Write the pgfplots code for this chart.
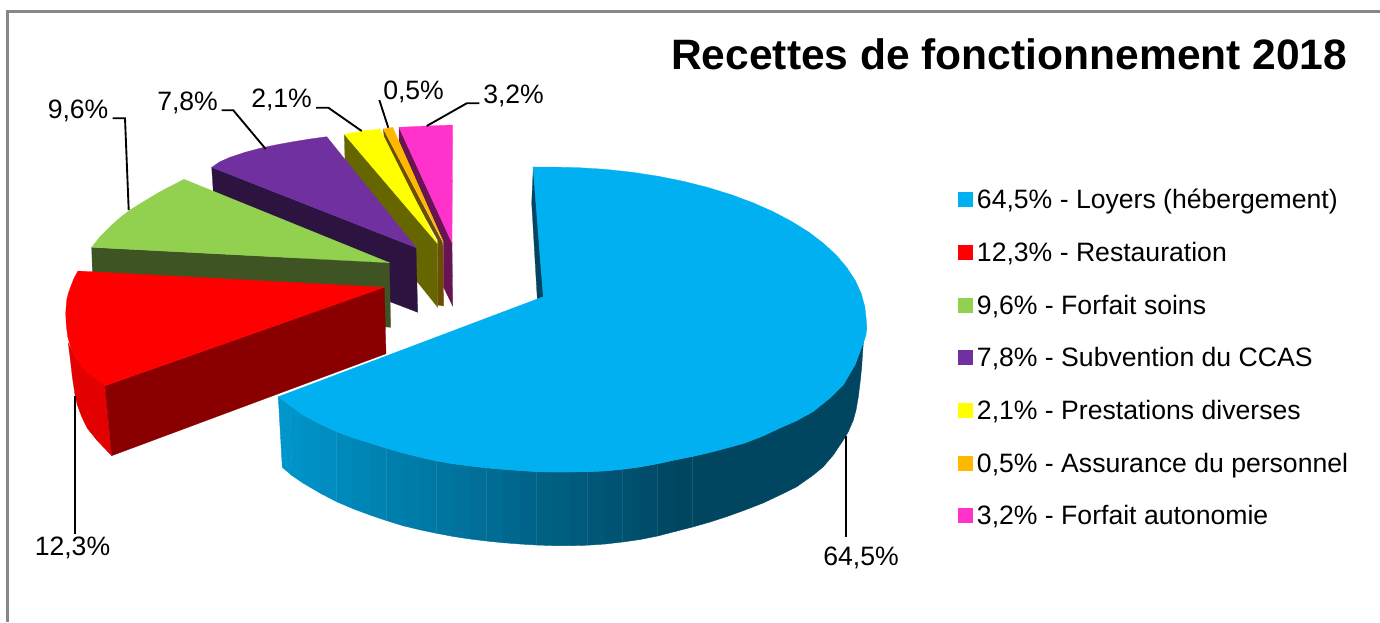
\documentclass[border=0pt]{standalone}
\usepackage{pgfplots}
\pgfplotsset{compat=1.18}
\usepackage{fontspec}
\setmainfont{Liberation Sans}
\definecolor{cblue}{RGB}{0,176,240}
\definecolor{cbluedk}{RGB}{0,70,96}
\definecolor{cred}{RGB}{255,0,0}
\definecolor{credmid}{RGB}{226,0,0}
\definecolor{creddk}{RGB}{138,0,0}
\definecolor{cgreen}{RGB}{146,208,80}
\definecolor{cgreendk}{RGB}{62,84,34}
\definecolor{cpurple}{RGB}{112,48,160}
\definecolor{cpurpledk}{RGB}{45,20,64}
\definecolor{cyellow}{RGB}{255,255,0}
\definecolor{cyellowdk}{RGB}{102,102,0}
\definecolor{corange}{RGB}{255,184,0}
\definecolor{corangedk}{RGB}{107,78,0}
\definecolor{cpink}{RGB}{255,51,204}
\definecolor{cpinkdk}{RGB}{102,20,82}
\definecolor{cframe}{RGB}{136,136,136}
\newcommand\poly[2]{\addplot[fill=#1,draw=#1,line width=0.2pt,mark=none] coordinates {#2} --cycle;}
\newcommand\wq[3]{\addplot[fill={rgb,255:red,0;green,#1;blue,#2},draw={rgb,255:red,0;green,#1;blue,#2},line width=0.3pt,mark=none] coordinates {#3} --cycle;}
\newcommand\leader[1]{\addplot[black,line width=1.4pt,mark=none] coordinates {#1};}
\newcommand\lab[3]{\node[anchor=base west,inner sep=0pt,font=\fontsize{19.95pt}{24pt}\selectfont] at (axis cs:#1,#2) {#3};}
\begin{document}
\begin{tikzpicture}
\useasboundingbox (0,0) rectangle (1035pt,466.5pt);
\begin{axis}[at={(0,0)},anchor=south west,scale only axis,width=1035pt,height=466.5pt,
 xmin=0,xmax=1380,ymin=0,ymax=622,y dir=reverse,hide axis,clip=false]
% frame
\addplot[cframe,line width=1.8pt,mark=none] coordinates {(7.5,622) (7.5,11.5) (1380,11.5)};
% pink
\poly{cpinkdk}{(399,127.3) (452,242.7) (452.7,306) (443.3,286.7) (443.3,241.7) (399,141.7)}
\poly{cpink}{(399,127.3) (426,126) (452.7,125) (452,243)}
% orange
\poly{corangedk}{(383.3,129) (442.7,242.7) (443.7,306) (437.7,305) (437.7,240) (385,145)}
\poly{corange}{(383.3,129) (392.7,127.3) (443.3,241.7)}
% yellow
\poly{cyellowdk}{(344.3,134.3) (437.3,243.3) (437.7,307.3) (416.7,281) (400,236.7) (345,159.3)}
\poly{cyellow}{(344.3,134.3) (361.7,131) (380,129) (437.3,243.3)}
% purple
\poly{cpurpledk}{(211.7,167.3) (416,247.7) (417.7,312.3) (390,301.7) (300,256.7) (213.3,191.7)}
\poly{cpurple}{(326.7,136.7) (310,139) (293.3,141.7) (276.7,144.7) (260,148.3) (245,152.3) (230,157.3) (220,161.7) (211.7,167.3) (416,247.7)}
% green
\poly{cgreendk}{(91.7,247.3) (389.3,262.7) (390.7,327.3) (383,326.7) (93.3,303.3)}
\poly{cgreen}{(184,179.3) (171.7,185.7) (160,191.7) (145,200.7) (130,210) (119.3,218.3) (110,226.7) (100,236.7) (91.7,247.3) (389.3,262.7)}
% red
\poly{credmid}{(68.3,343.3) (75,356.7) (88.3,373.3) (105,385.7) (111.7,455.7) (96.7,440) (87.3,428.3) (81.7,416.7) (77.3,405) (75,395) (72.3,376.7) (70,356.7)}
\poly{creddk}{(105,385.7) (384.3,287.3) (386,353.7) (111.7,455.7)}
\poly{cred}{(78,271) (384.3,287.3) (105,385.7) (96.7,380) (88.3,373.3) (81,365.7) (75,356.7) (70.7,347.3) (67.7,336.7) (66.3,325) (65.7,313.3) (66.7,300) (68.3,293.3) (70.7,286.7) (74,278.3)}
% blue inner wall
\poly{cbluedk}{(533.3,166.7) (543.3,296.7) (537.3,299.3) (531.7,203)}
% blue outer wall strips
\wq{149}{203}{(278.3,396.7) (290,405.5) (292,475.5) (282.3,467.3)}
\wq{147}{200}{(290,405.5) (303,415) (303,483) (292,475.5)}
\wq{144}{196}{(303,415) (320,424) (320,493) (303,483)}
\wq{140}{191}{(320,424) (336.7,431.7) (336.7,501.7) (320,493)}
\wq{137}{187}{(336.7,431.7) (353,437.8) (353,508.7) (336.7,501.7)}
\wq{134}{182}{(353,437.8) (370,443) (370,515) (353,508.7)}
\wq{130}{178}{(370,443) (386.5,448.2) (386.5,520.6) (370,515)}
\wq{127}{173}{(386.5,448.2) (403,453) (403,525.7) (386.5,520.6)}
\wq{124}{169}{(403,453) (420,457.3) (420,529.8) (403,525.7)}
\wq{120}{164}{(420,457.3) (436.7,461) (436.7,533.3) (420,529.8)}
\wq{117}{160}{(436.7,461) (453,463.8) (453,536.4) (436.7,533.3)}
\wq{114}{156}{(453,463.8) (470,466) (470,539) (453,536.4)}
\wq{110}{151}{(470,466) (486.5,467.9) (486.5,541) (470,539)}
\wq{107}{147}{(486.5,467.9) (503,469.3) (503,542.7) (486.5,541)}
\wq{104}{142}{(503,469.3) (520,470.6) (520,544) (503,542.7)}
\wq{100}{138}{(520,470.6) (536.7,471.7) (536.7,545) (520,544)}
\wq{97}{133}{(536.7,471.7) (553,472) (553,545.6) (536.7,545)}
\wq{94}{129}{(553,472) (570,472) (570,545.7) (553,545.6)}
\wq{90}{124}{(570,472) (587.5,471.7) (587.5,545.2) (570,545.7)}
\wq{87}{120}{(587.5,471.7) (605,471) (605,544) (587.5,545.2)}
\wq{83}{115}{(605,471) (622.5,469.3) (622.5,542) (605,544)}
\wq{80}{110}{(622.5,469.3) (640,467) (640,539.5) (622.5,542)}
\wq{76}{106}{(640,467) (657.5,463.8) (657.5,536) (640,539.5)}
\wq{73}{101}{(657.5,463.8) (675,460) (675,531.5) (657.5,536)}
\wq{70}{97}{(675,460) (692.5,456.5) (692.5,527) (675,531.5)}
\wq{70}{96}{(692.5,456.5) (710,452.5) (710,522) (692.5,527)}
\wq{70}{96}{(710,452.5) (727,448) (745,443) (763,436) (780,428) (796.7,420.7) (813,411.7) (830,398) (843.3,385) (855,365) (863.3,343) (866.7,327) (863.3,343) (862.3,356.7) (861.7,366.7) (860,383) (858.3,396.7) (856,410) (853.3,420) (848.3,431.7) (843.3,440) (833.3,455) (823.3,466.7) (813.3,475) (796.7,486.7) (780,495) (763,503) (745,510) (727,516.5) (710,522)}
% blue top
\poly{cblue}{(533,167) (550,167) (577.5,167.6) (604.9,169.3) (631.8,172.2) (658.1,176.2) (683.5,181.3) (708,187.5) (731.3,194.7) (753.1,202.8) (773.4,211.8) (792.1,221.7) (808.9,232.2) (823.7,243.5) (836.4,255.3) (846.9,267.7) (855.2,280.4) (861.2,293.4) (864.8,306.7) (866.3,320) (866.7,327) (866,335) (863.3,343) (855,365) (843.3,385) (830,398) (813,411.7) (796.7,420.7) (780,428) (763,436) (745,443) (727,448) (710,452.5) (692.5,456.5) (675,460) (657.5,463.8) (640,467) (622.5,469.3) (605,471) (587.5,471.7) (570,472) (553,472) (536.7,471.7) (520,470.6) (503,469.3) (486.5,467.9) (470,466) (453,463.8) (436.7,461) (420,457.3) (403,453) (386.5,448.2) (370,443) (353,437.8) (336.7,431.7) (320,424) (303,415) (290,405.5) (278.3,396.7) (543.3,296.7)}
% leader lines
\leader{(846,436) (846,537)}
\leader{(75,396) (75,534)}
\leader{(112.7,118.3) (125,118.3) (128.7,210)}
\leader{(221.7,110.3) (233.3,110.3) (265.7,149)}
\leader{(316,107.7) (328.3,107.7) (361.7,131)}
\leader{(379.3,100) (388.3,127.7)}
\leader{(479.3,103.3) (466.7,103.3) (426.7,126)}
% data labels
\lab{47.5}{118}{9,6\%}
\lab{157}{110}{7,8\%}
\lab{251}{107.7}{2,1\%}
\lab{383}{99}{0,5\%}
\lab{483}{103}{3,2\%}
\lab{34.5}{555}{12,3\%}
\lab{823}{565}{64,5\%}
% title
\node[anchor=base west,inner sep=0pt,font=\fontsize{31.9pt}{38pt}\selectfont\bfseries] at (axis cs:671,69.5) {Recettes de fonctionnement 2018};
% legend keys
\poly{cblue}{(958,191.7) (972,191.7) (972,205.7) (958,205.7)}
\poly{cred}{(958,245) (972,245) (972,259) (958,259)}
\poly{cgreen}{(958,297.7) (972,297.7) (972,311.7) (958,311.7)}
\poly{cpurple}{(958,350) (972,350) (972,364) (958,364)}
\poly{cyellow}{(958,403.3) (972,403.3) (972,417.3) (958,417.3)}
\poly{corange}{(958,456) (972,456) (972,470) (958,470)}
\poly{cpink}{(958,508) (972,508) (972,522) (958,522)}
\lab{976.7}{208.3}{64,5\% - Loyers (hébergement)}
\lab{976.7}{261}{12,3\% - Restauration}
\lab{976.7}{314}{9,6\% - Forfait soins}
\lab{976.7}{366.5}{7,8\% - Subvention du CCAS}
\lab{976.7}{419.5}{2,1\% - Prestations diverses}
\lab{976.7}{472}{0,5\% - Assurance du personnel}
\lab{976.7}{524.5}{3,2\% - Forfait autonomie}
\end{axis}
\end{tikzpicture}
\end{document}
